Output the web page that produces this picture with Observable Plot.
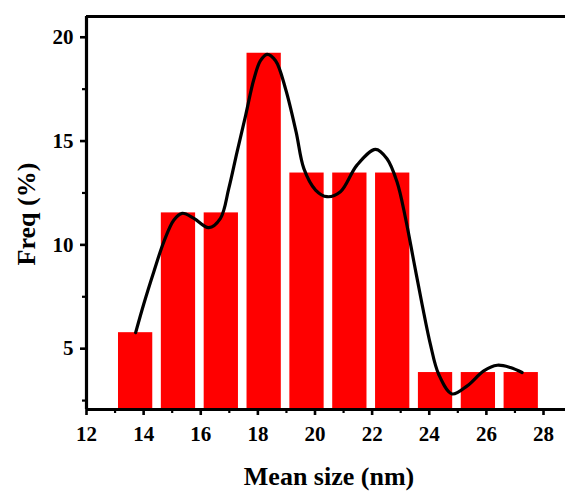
<!DOCTYPE html>
<html>
<head>
<meta charset="utf-8">
<script src="https://cdn.jsdelivr.net/npm/d3@7"></script>
<script src="https://cdn.jsdelivr.net/npm/@observablehq/plot@0.6"></script>
<style>
  html, body { margin: 0; padding: 0; background: #ffffff; }
  #chart svg { display: block; }
  #chart svg g[aria-label$="tick label"] text { font-size: 21px; font-weight: bold; }
</style>
</head>
<body>
<div id="chart"></div>
<script>
// Histogram bins (bin centres, nm) and frequency (%)
const binCenters = [13.72, 15.22, 16.72, 18.22, 19.72, 21.22, 22.72, 24.22, 25.72, 27.22];
const freq = [5.77, 11.54, 11.54, 19.23, 13.46, 13.46, 13.46, 3.85, 3.85, 3.85];
const barWidth = 1.2; // nm

// Smooth fit curve
const curveX = [13.72, 14.0, 14.36, 14.71, 15.06, 15.35, 15.76, 16.28, 16.69, 16.98, 17.27, 17.57, 17.86, 18.09, 18.32, 18.62, 18.97, 19.34, 19.61, 20.02, 20.42, 20.89, 21.47, 22.12, 22.52, 22.87, 23.17, 23.46, 23.75, 24.04, 24.33, 24.8, 25.33, 25.91, 26.38, 26.84, 27.25];
const curveY = [5.77, 7.13, 8.72, 10.16, 11.2, 11.52, 11.28, 10.83, 11.28, 12.71, 14.47, 16.23, 17.98, 18.87, 19.18, 18.87, 17.51, 15.43, 13.67, 12.64, 12.32, 12.56, 13.84, 14.6, 14.15, 13.04, 11.28, 9.2, 7.13, 5.21, 3.77, 2.82, 3.21, 3.93, 4.2, 4.09, 3.85];

// Tick labels
const xTicks = [12, 14, 16, 18, 20, 22, 24, 26, 28];
const xMinorTicks = [13, 15, 17, 19, 21, 23, 25, 27];
const yTicks = [5, 10, 15, 20];
const yMinorTicks = [2.5, 7.5, 12.5, 17.5];

const xDomain = [12, 28.77];
const yDomain = [2.07, 21];

const bars = binCenters.map((c, i) => ({x1: c - barWidth / 2, x2: c + barWidth / 2, y: freq[i]}));
const curve = curveX.map((x, i) => ({x, y: curveY[i]}));

const font = "'Liberation Serif', 'Times New Roman', Times, serif";

const chart = Plot.plot({
  width: 565,
  height: 491,
  marginLeft: 86,
  marginRight: 0,
  marginTop: 16,
  marginBottom: 82,
  style: {fontFamily: font, fontWeight: "bold", fontSize: "21px", background: "#ffffff", color: "#000"},
  x: {domain: xDomain},
  y: {domain: yDomain},
  marks: [
    Plot.rect(bars, {x1: "x1", x2: "x2", y1: yDomain[0], y2: "y", fill: "#ff0000"}),
    Plot.line(curve, {x: "x", y: "y", stroke: "#000", strokeWidth: 3.2, curve: "catmull-rom"}),
    // frame lines: bottom, left, top
    Plot.ruleY([yDomain[0]], {stroke: "#000", strokeWidth: 3}),
    Plot.ruleY([yDomain[1]], {stroke: "#000", strokeWidth: 3}),
    Plot.ruleX([xDomain[0]], {stroke: "#000", strokeWidth: 3.2}),
    // x axis
    Plot.axisX({ticks: xTicks, tickSize: 6, tickPadding: 11, tickFormat: d3.format("d"), label: null, strokeWidth: 2.6}),
    Plot.axisX({ticks: xMinorTicks, tickSize: 4, tickFormat: () => "", label: null, strokeWidth: 2.2}),
    // y axis
    Plot.axisY({ticks: yTicks, tickSize: 6, tickPadding: 7, tickFormat: d3.format("d"), label: null, strokeWidth: 2.6}),
    Plot.axisY({ticks: yMinorTicks, tickSize: 4, tickFormat: () => "", label: null, strokeWidth: 2.2}),
    // axis titles
    Plot.text(["Mean size (nm)"], {frameAnchor: "bottom", text: d => d, dx: 3, dy: 75, textAnchor: "middle", lineAnchor: "bottom", fontSize: 26, fontWeight: "bold", fill: "#000"}),
    Plot.text(["Freq (%)"], {frameAnchor: "left", text: d => d, rotate: -90, dx: -52, dy: 1, textAnchor: "middle", lineAnchor: "bottom", fontSize: 26, fontWeight: "bold", fill: "#000"})
  ]
});

document.getElementById("chart").appendChild(chart);
</script>
</body>
</html>
